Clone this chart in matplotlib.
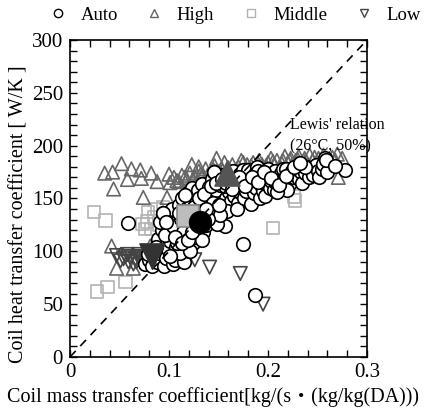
import matplotlib
matplotlib.use("Agg")
import matplotlib.pyplot as plt
from matplotlib.lines import Line2D
from matplotlib.ticker import MultipleLocator, FuncFormatter

plt.rcParams['font.family'] = ['Liberation Serif', 'Noto Sans CJK JP', 'DejaVu Sans']

# ---- data ----
auto_x = [0.076, 0.080, 0.083, 0.085, 0.079,
          0.088, 0.090, 0.092, 0.089, 0.093, 0.091, 0.095, 0.094,
          0.097, 0.099, 0.101, 0.098, 0.102, 0.100, 0.103, 0.104, 0.105,
          0.107, 0.109, 0.111, 0.108, 0.112, 0.110, 0.113, 0.106, 0.114,
          0.116, 0.118, 0.121, 0.117, 0.122, 0.119, 0.123, 0.115, 0.124, 0.120,
          0.126, 0.128, 0.131, 0.127, 0.132, 0.129, 0.133, 0.134, 0.136,
          0.137, 0.139, 0.141, 0.138, 0.142, 0.140, 0.143, 0.145, 0.144,
          0.146, 0.148, 0.151, 0.147, 0.152, 0.150, 0.153, 0.155, 0.149,
          0.156, 0.158, 0.161, 0.157, 0.162, 0.160, 0.163, 0.165, 0.159,
          0.166, 0.168, 0.171, 0.167, 0.172, 0.170, 0.173, 0.175, 0.169,
          0.176, 0.178, 0.181, 0.177, 0.182, 0.180, 0.183, 0.185, 0.189,
          0.186, 0.188, 0.191, 0.187, 0.192, 0.190, 0.193, 0.195,
          0.196, 0.198, 0.201, 0.197, 0.202, 0.200, 0.203, 0.205,
          0.206, 0.208, 0.211, 0.207, 0.212, 0.209, 0.213, 0.215,
          0.216, 0.219, 0.221, 0.218, 0.222, 0.224, 0.225,
          0.227, 0.229, 0.231, 0.233, 0.234, 0.236,
          0.237, 0.239, 0.241, 0.243, 0.245, 0.248,
          0.250, 0.252, 0.255, 0.258, 0.256, 0.260,
          0.059, 0.157, 0.133, 0.175, 0.187, 0.278, 0.259, 0.237, 0.219,
          0.209, 0.209, 0.268, 0.145, 0.116, 0.094, 0.111, 0.121, 0.148, 0.152,
          0.096, 0.104, 0.112, 0.118, 0.125, 0.130, 0.135, 0.142, 0.147, 0.154,
          0.108, 0.114, 0.120, 0.127, 0.133, 0.139, 0.144, 0.150, 0.158, 0.164,
          0.171, 0.177, 0.184, 0.190, 0.196, 0.203, 0.211, 0.218, 0.226, 0.232,
          0.101, 0.106, 0.113, 0.119, 0.125, 0.087, 0.097, 0.110, 0.123, 0.137]
auto_y = [88, 92, 86, 95, 97,
          90, 98, 105, 112, 120, 128, 86, 136,
          94, 102, 110, 118, 125, 132, 140, 88, 97,
          104, 112, 120, 128, 136, 144, 150, 92, 98,
          106, 115, 124, 140, 148, 155, 160, 90, 108, 100,
          114, 122, 138, 146, 152, 158, 164, 118, 130,
          125, 136, 142, 150, 156, 161, 168, 175, 132,
          138, 146, 152, 158, 163, 169, 140, 172, 130,
          144, 150, 156, 162, 167, 172, 148, 176, 138,
          152, 158, 163, 168, 173, 146, 155, 177, 140,
          150, 157, 162, 167, 172, 177, 145, 165, 180,
          155, 160, 168, 173, 150, 176, 163, 157,
          165, 170, 174, 152, 160, 178, 167, 172,
          158, 165, 170, 176, 161, 166, 174, 178,
          168, 159, 173, 178, 165, 176, 170,
          172, 178, 168, 175, 165, 180,
          174, 180, 170, 177, 172, 182,
          176, 170, 178, 188, 183, 175,
          127, 124, 111, 107, 59, 177, 186, 180, 158,
          166, 156, 181, 175, 153, 136, 98, 100, 126, 134,
          115, 124, 131, 137, 142, 150, 154, 162, 165, 168,
          108, 118, 130, 133, 126, 131, 146, 144, 165, 159,
          170, 162, 170, 166, 175, 169, 163, 171, 180, 184,
          96, 114, 108, 111, 128, 104, 128, 136, 118, 140]

high_x = [0.035, 0.043, 0.052, 0.062, 0.058, 0.071, 0.072, 0.082, 0.088, 0.100,
          0.101, 0.044, 0.074, 0.098, 0.042, 0.081, 0.047, 0.064,
          0.105, 0.110, 0.113, 0.118, 0.121, 0.123, 0.126, 0.130, 0.130, 0.134,
          0.137, 0.140, 0.143, 0.146, 0.148, 0.150, 0.153, 0.156, 0.158, 0.161,
          0.164, 0.167, 0.170, 0.173, 0.176, 0.179, 0.182, 0.185, 0.188, 0.191,
          0.194, 0.197, 0.200, 0.203, 0.206, 0.209, 0.212, 0.215, 0.217, 0.220,
          0.223, 0.225, 0.228, 0.231, 0.234, 0.237, 0.240, 0.242, 0.245, 0.248,
          0.251, 0.254, 0.256, 0.259, 0.263, 0.265, 0.270, 0.271, 0.268, 0.275,
          0.108, 0.116, 0.124, 0.132, 0.139, 0.145, 0.152, 0.160, 0.168, 0.175,
          0.183, 0.190, 0.198, 0.205, 0.214, 0.222, 0.230, 0.238, 0.247, 0.258]
high_y = [174, 175, 183, 178, 168, 177, 169, 174, 166, 173,
          165, 159, 151, 151, 105, 105, 84, 84,
          170, 166, 172, 168, 174, 182, 170, 176, 180, 172,
          178, 169, 175, 181, 188, 172, 178, 184, 170, 176,
          182, 174, 180, 186, 176, 182, 178, 184, 180, 186,
          182, 178, 184, 188, 182, 186, 180, 186, 190, 184,
          188, 182, 186, 190, 184, 188, 182, 191, 186, 183,
          188, 185, 191, 187, 183, 189, 192, 170, 186, 188,
          167, 170, 168, 173, 172, 177, 175, 179, 177, 184,
          181, 183, 181, 185, 183, 186, 187, 186, 189, 189]

middle_x = [0.024, 0.036, 0.027, 0.038, 0.056, 0.079, 0.076, 0.082, 0.078, 0.085,
            0.088, 0.073, 0.090, 0.094, 0.205, 0.226, 0.227, 0.213, 0.200, 0.180]
middle_y = [137, 129, 62, 66, 71, 137, 121, 121, 128, 132,
            140, 126, 125, 142, 122, 152, 148, 160, 168, 160]

low_x = [0.047, 0.054, 0.059, 0.062, 0.067, 0.072, 0.073, 0.079, 0.085, 0.089,
         0.094, 0.098, 0.070, 0.076, 0.064, 0.058, 0.083, 0.091, 0.100,
         0.051, 0.056, 0.066, 0.069, 0.075, 0.081, 0.087, 0.096,
         0.126, 0.141, 0.172, 0.195]
low_y = [96, 93, 90, 95, 90, 95, 89, 98, 92, 98,
         94, 98, 92, 94, 88, 97, 96, 90, 95,
         91, 95, 93, 97, 90, 93, 95, 92,
         92, 85, 79, 50]

mean_x = {'Auto': 0.131, 'High': 0.159, 'Middle': 0.119, 'Low': 0.083}
mean_y = {'Auto': 128, 'High': 174, 'Middle': 133, 'Low': 96}

lewis_x = [0.0, 0.3]
lewis_y = [0.0, 300.0]

legend_labels = ['Auto', 'High', 'Middle', 'Low']

# ---- figure ----
fig = plt.figure(figsize=(4.28, 4.15), dpi=100)
ax = fig.add_axes([0.1636, 0.1398, 0.6939, 0.7638])

c_high = '#666666'
c_mid = '#b3b3b3'
c_low = '#444444'

ms = 95
ax.scatter(middle_x, middle_y, s=ms * 0.85, marker='s', facecolors='none', edgecolors=c_mid, linewidths=1.2, zorder=2)
ax.scatter(high_x, high_y, s=ms, marker='^', facecolors='none', edgecolors=c_high, linewidths=1.2, zorder=2)
ax.scatter(low_x, low_y, s=ms, marker='v', facecolors='none', edgecolors=c_low, linewidths=1.2, zorder=2)
ax.scatter(auto_x, auto_y, s=ms, marker='o', facecolors='white', edgecolors='black', linewidths=1.2, zorder=3)

ax.plot(lewis_x, lewis_y, color='black', lw=1.2, ls=(0, (5, 4)), zorder=4)

ax.scatter([mean_x['High']], [mean_y['High']], s=330, marker='^', facecolors='#555555', edgecolors='#555555', zorder=5)
ax.scatter([mean_x['Middle']], [mean_y['Middle']], s=230, marker='s', facecolors='#bdbdbd', edgecolors='#888888', linewidths=1.2, zorder=5)
ax.scatter([mean_x['Auto']], [mean_y['Auto']], s=250, marker='o', facecolors='black', edgecolors='black', zorder=5)
ax.scatter([mean_x['Low']], [mean_y['Low']], s=330, marker='v', facecolors='#333333', edgecolors='#333333', zorder=5)

ax.text(0.222, 209, "Lewis' relation\n(26°C, 50%)", fontsize=11.5, ha='left', va='center',
        linespacing=1.45, zorder=6)

ax.set_xlim(0, 0.3)
ax.set_ylim(0, 300)
ax.xaxis.set_major_locator(MultipleLocator(0.1))
ax.xaxis.set_minor_locator(MultipleLocator(0.02))
ax.yaxis.set_major_locator(MultipleLocator(50))
ax.yaxis.set_minor_locator(MultipleLocator(10))
ax.xaxis.set_major_formatter(FuncFormatter(lambda v, p: '0' if abs(v) < 1e-9 else f'{v:.1f}'))
ax.tick_params(which='both', direction='in', top=True, right=True, width=1.0, length=5)
ax.tick_params(axis='x', labelsize=15, pad=4)
ax.tick_params(axis='y', labelsize=15, pad=5)
for sp in ax.spines.values():
    sp.set_linewidth(1.2)

ax.set_xlabel('Coil mass transfer coefficient[kg/(s・(kg/kg(DA)))', fontsize=14.5)
ax.xaxis.set_label_coords(0.48, -0.095)
ax.set_ylabel('Coil heat transfer coefficient [ W/K ]', fontsize=14.5)
ax.yaxis.set_label_coords(-0.14, 0.45)

handles = [
    Line2D([], [], ls='none', marker='o', ms=6, mfc='white', mec='black', mew=1.0),
    Line2D([], [], ls='none', marker='^', ms=6, mfc='none', mec=c_high, mew=1.0),
    Line2D([], [], ls='none', marker='s', ms=6, mfc='none', mec=c_mid, mew=1.0),
    Line2D([], [], ls='none', marker='v', ms=6, mfc='none', mec=c_low, mew=1.0),
]
fig.legend(handles, legend_labels, loc='center', bbox_to_anchor=(0.548, 0.963),
           ncol=4, frameon=False, fontsize=13.5, handlelength=1.0, handletextpad=0.7,
           columnspacing=1.45, borderpad=0.1)

fig.savefig('out.png', dpi=100)
